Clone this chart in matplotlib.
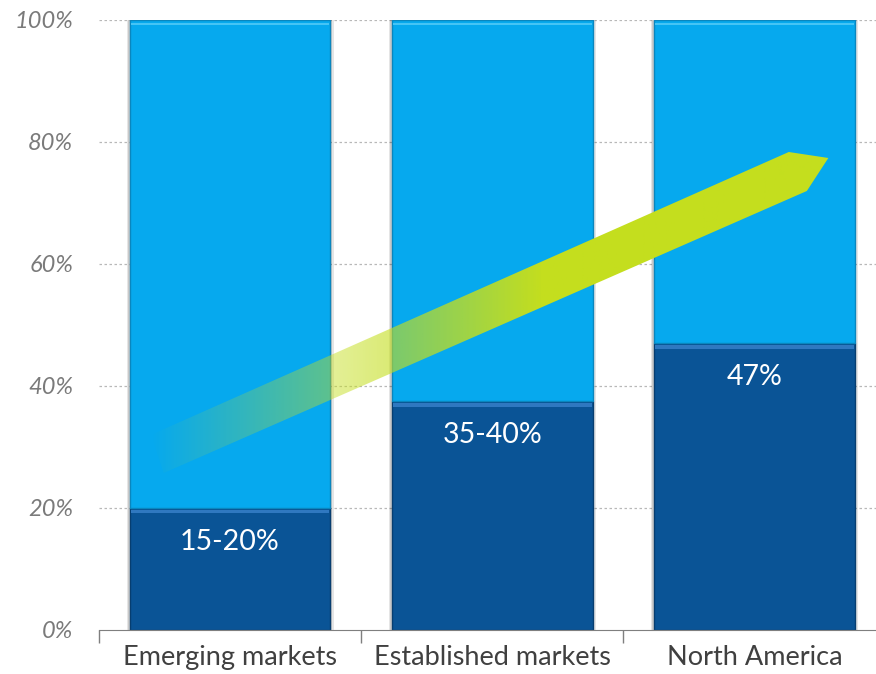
import numpy as np
import matplotlib
matplotlib.use("Agg")
import matplotlib.pyplot as plt
from matplotlib.patches import Polygon, Rectangle
from matplotlib.colors import to_rgb

# ---- data -------------------------------------------------------------
categories = ["Emerging markets", "Established markets", "North America"]
share_values = [20, 37.5, 47]                 # dark (lower) segment, %
share_labels = ["15-20%", "35-40%", "47%"]
rest_values = [100 - v for v in share_values]  # light (upper) segment, %
y_ticks = [0, 20, 40, 60, 80, 100]
y_tick_labels = [f"{t}%" for t in y_ticks]

# trend arrow outline (x in category units, y in %)
arrow_x = [-0.303, 2.131, 2.282, 2.200, -0.253]
arrow_y = [31.97, 78.36, 77.38, 71.97, 25.74]

# ---- style ------------------------------------------------------------
LIGHT = "#06A9EE"
DARK = "#0A5496"
LIGHT_HI = "#45C4F5"
DARK_HI = "#2F78C0"
ARROW = "#C4DE1E"
GRID = "#B8B8B8"
TEXT = "#7A7A7A"
bar_w = 0.766

plt.rcParams["font.family"] = ["Lato", "DejaVu Sans"]

fig = plt.figure(figsize=(8.76, 6.74), dpi=100)
ax = fig.add_axes([99 / 876, 44 / 674, 786.5 / 876, 610 / 674])

x = np.arange(len(categories))

# soft shadows behind bars
for k, a in [(0.012, 0.10), (0.006, 0.12)]:
    ax.bar(x, 100, width=bar_w + 2 * k, color="#000000", alpha=a,
           zorder=1.5, linewidth=0)

ax.bar(x, share_values, width=bar_w, color=DARK, zorder=2,
       edgecolor="#073E70", linewidth=1.0)
ax.bar(x, rest_values, bottom=share_values, width=bar_w, color=LIGHT,
       zorder=2, edgecolor="#0A86BE", linewidth=1.0)

# bevel highlights along the top of each segment
for xi, v in zip(x, share_values):
    ax.add_patch(Rectangle((xi - bar_w / 2 + 0.004, v - 0.9), bar_w - 0.008, 0.6,
                           color=DARK_HI, zorder=2.5, linewidth=0))
    ax.add_patch(Rectangle((xi - bar_w / 2 + 0.004, 100 - 0.9), bar_w - 0.008, 0.45,
                           color=LIGHT_HI, zorder=2.5, linewidth=0))

# gridlines
for t in y_ticks[1:]:
    ax.axhline(t, color=GRID, linestyle=(0, (2, 2)), linewidth=0.9, zorder=1)

# trend arrow with a fading gradient toward its tail
poly = Polygon(np.column_stack([arrow_x, arrow_y]), closed=True,
               facecolor="none", edgecolor="none", zorder=3)
ax.add_patch(poly)
x0, x1 = -0.5, 2.5
n = 800
xs = np.linspace(x0, x1, n)
alpha = np.clip((xs - (-0.303)) / (1.183 - (-0.303)), 0, 1)
img = np.zeros((2, n, 4))
img[..., :3] = to_rgb(ARROW)
img[..., 3] = alpha
im = ax.imshow(img, extent=[x0, x1, 0, 100], aspect="auto", zorder=3,
               interpolation="bilinear", origin="lower")
im.set_clip_path(poly)

# value labels
for xi, v, lab in zip(x, share_values, share_labels):
    ax.text(xi, v - 5.5, lab, ha="center", va="center", color="white",
            fontsize=20.5, zorder=4)

ax.set_xlim(-0.5, 2.5)
ax.set_ylim(0, 100)
ax.set_yticks(y_ticks)
ax.set_yticklabels(y_tick_labels, fontstyle="italic", color=TEXT, fontsize=17)
ax.tick_params(axis="y", length=0, pad=18.5)

ax.set_xticks([-0.5, 0.5, 1.5, 2.5], minor=False)
ax.set_xticklabels([])
ax.set_xticks(x, minor=True)
ax.set_xticklabels(categories, minor=True, fontsize=19.5, color="#404040")
ax.tick_params(axis="x", which="major", length=9, color="#7F7F7F", width=1)
ax.tick_params(axis="x", which="minor", length=0, pad=11)

for s in ["top", "right", "left"]:
    ax.spines[s].set_visible(False)
ax.spines["bottom"].set_color("#7F7F7F")
ax.spines["bottom"].set_zorder(5)

fig.savefig("out.png", dpi=100)
